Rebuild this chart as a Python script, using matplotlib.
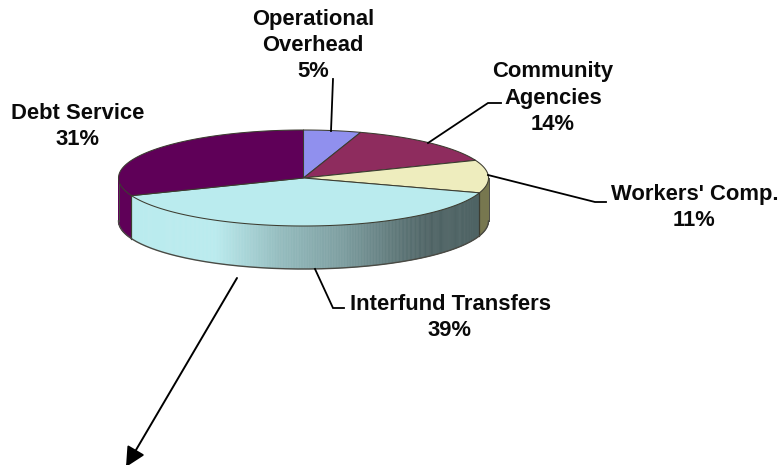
import numpy as np
import matplotlib
matplotlib.use("Agg")
import matplotlib.pyplot as plt
from matplotlib.patches import Polygon
from matplotlib.colors import to_rgb

# Data
categories = ["Operational\nOverhead", "Community\nAgencies", "Workers' Comp.",
              "Interfund Transfers", "Debt Service"]
values = [5, 14, 11, 39, 31]
top_colors = ["#9090EE", "#8E2C5E", "#EEEDBE", "#BAEBEE", "#5F0058"]
side_colors = ["#6C6CB0", "#6A2046", "#77774F", "#BAEBEE", "#5F0058"]
label_pos = [(313, 19.5), (553, 72), (694.5, 194), (450, 304), (77.5, 113)]

# Pie geometry (pixels)
cx, cy, rx, ry, depth = 303.5, 178.0, 185.0, 48.0, 43.0
edge = "#3c3c30"

plt.rcParams["font.family"] = ["Liberation Sans", "DejaVu Sans"]
fig = plt.figure(figsize=(7.83, 4.65), dpi=100)
ax = fig.add_axes([0, 0, 1, 1])
ax.set_xlim(0, 783)
ax.set_ylim(465, 0)
ax.axis("off")


def pt(a):
    """a = degrees clockwise from 12 o'clock."""
    r = np.radians(a)
    return cx + rx * np.sin(r), cy - ry * np.cos(r)


# light model for the wall of the large slice: colour as function of x
shade_x = [131, 215, 280, 340, 400, 430, 480]
shade_f = [1.0, 1.0, 0.80, 0.68, 0.50, 0.42, 0.42]

cum = np.concatenate([[0], np.cumsum(values)]) * 3.6

# Walls
for i in range(len(values)):
    a0, a1 = cum[i], cum[i + 1]
    lo, hi = max(a0, 90), min(a1, 270)
    if hi <= lo:
        continue
    grid = np.linspace(lo, hi, int((hi - lo) * 2) + 2)
    base = np.array(to_rgb(side_colors[i]))
    for g0, g1 in zip(grid[:-1], grid[1:]):
        x0, y0 = pt(g0)
        x1, y1 = pt(g1)
        f = np.interp((x0 + x1) / 2, shade_x, shade_f) if i == 3 else 1.0
        ax.add_patch(Polygon([(x0, y0), (x1, y1), (x1, y1 + depth), (x0, y0 + depth)],
                             closed=True, fc=base * f, ec=base * f, lw=0.4, zorder=2))
    for a in (lo, hi):
        x, y = pt(a)
        if a not in (90, 270):
            ax.plot([x, x], [y, y + depth], color=edge, lw=0.8, zorder=3)

# wall outline
t = np.linspace(90, 270, 240)
xs, ys = pt(t)
ax.plot(xs, ys + depth, color="#4a4a44", lw=1.0, zorder=3)
for a in (90, 270):
    x, y = pt(a)
    ax.plot([x, x], [y, y + depth], color="#4a4a44", lw=0.7, zorder=3)

# Top face
for i, col in enumerate(top_colors):
    t = np.linspace(cum[i], cum[i + 1], 120)
    xs, ys = pt(t)
    pts = np.vstack([[cx, cy], np.column_stack([xs, ys])])
    ax.add_patch(Polygon(pts, closed=True, fc=col, ec=edge, lw=0.75, zorder=4,
                         joinstyle="round"))

# Labels
for name, v, (x, y) in zip(categories, values, label_pos):
    lines = name.split("\n") + [f"{v}%"]
    for k, s in enumerate(lines):
        ax.text(x, y + k * 26.0, s, ha="center", va="center", fontsize=15.8,
                fontweight="bold", color="#0a0a0a", zorder=6)

# Leader lines
leaders = [
    [(333, 79), (331, 131)],
    [(428, 143), (488, 103), (501, 103)],
    [(488, 175), (595, 202), (606, 202)],
    [(315, 269), (333, 308), (344, 308)],
]
for seg in leaders:
    sx, sy = zip(*seg)
    ax.plot(sx, sy, color="black", lw=1.3, zorder=5, solid_joinstyle="miter")

# Arrow
ax.annotate("", xy=(126, 467), xytext=(237, 278), zorder=5, annotation_clip=False,
            arrowprops=dict(arrowstyle="-|>,head_length=1.0,head_width=0.5", color="black",
                            lw=1.4, shrinkA=0, shrinkB=0, mutation_scale=12))

fig.savefig("out.png", dpi=100)
